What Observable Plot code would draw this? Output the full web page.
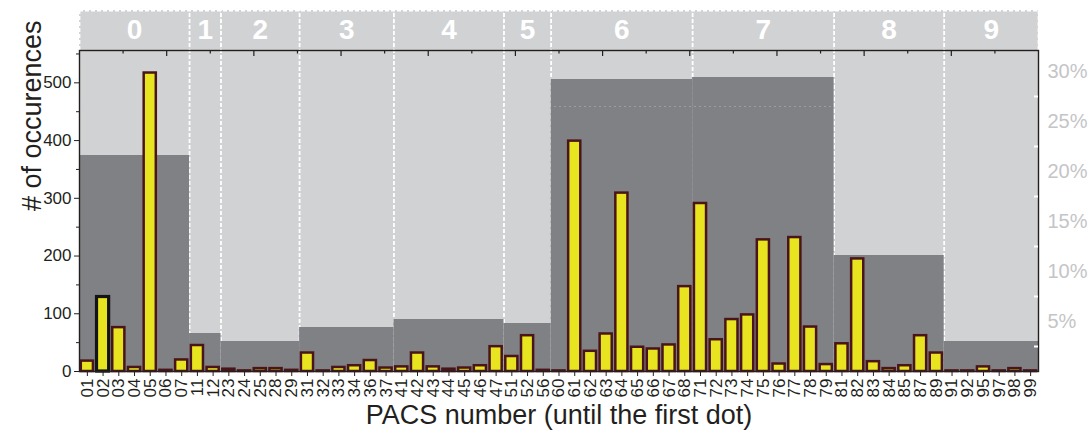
<!DOCTYPE html>
<html>
<head>
<meta charset="utf-8">
<script src="https://cdn.jsdelivr.net/npm/d3@7"></script>
<script src="https://cdn.jsdelivr.net/npm/@observablehq/plot@0.6"></script>
<style>
  body { margin: 0; background: #ffffff; }
  #chart svg { display: block; }
</style>
</head>
<body>
<div id="chart"></div>
<script>
// ---- data ----
const codes = ["01","02","03","04","05","06","07","11","12","23","24","25","28","29",
  "31","32","33","34","36","37","41","42","43","44","45","46","47","51","52","56",
  "60","61","62","63","64","65","66","67","68","71","72","73","74","75","76","77","78","79",
  "81","82","83","84","85","87","89","91","92","95","97","98","99"];
const counts = [18,129,76,7,517,2,20, 45,7, 4,1,5,5,2,
  32,1,7,10,19,6, 8,32,8,4,6,10,43, 26,62,2,
  1,399,35,65,309,42,39,46,147, 291,55,90,98,228,13,232,77,12,
  48,195,17,5,10,62,32, 1,1,8,1,5,1];
const groupNames = ["0","1","2","3","4","5","6","7","8","9"];
const groupShares = [21.6, 3.8, 3.0, 4.4, 5.2, 4.8, 29.2, 29.4, 11.6, 3.0]; // percent (right axis)
const highlighted = ["02"];
const leftTicks = [0, 100, 200, 300, 400, 500];
const leftMinorTicks = [50, 150, 250, 350, 450, 550];
const rightTicks = [5, 10, 15, 20, 25, 30];
const rightMinorTicks = [2.5, 7.5, 12.5, 17.5, 22.5, 27.5];
const refLine = 459;
const yMax = 556;       // left axis top (count)
const pctMax = 32.1;    // right axis top (percent)
const xLabel = "PACS number (until the first dot)";
const yLabel = "# of occurences";

// ---- layout / style ----
const W = 1089, H = 437, mL = 79, mR = 51, mT = 50, mB = 66;
const ink = "#231f20", light = "#d1d2d4", dark = "#808185",
      yellow = "#e8e420", maroon = "#4a1518", pctColor = "#c4c5c7";
const font = "'Liberation Sans', Arial, sans-serif";

const n = codes.length;
const plotH = H - mT - mB;
const countPerPx = yMax / plotH;
const bandPx = (W - mL - mR) / n;
const countPerPct = yMax / pctMax;
const yHeader = yMax + 40 * countPerPx;

const rows = codes.map((c, i) => ({code: c, i, count: counts[i], group: c[0]}));
const groups = groupNames.map((g, j) => {
  const idx = rows.filter(r => r.group === g).map(r => r.i);
  return {name: g, start: d3.min(idx), end: d3.max(idx) + 1, share: groupShares[j]};
});
const nTop = 22;
const topTicks = d3.range(1, nTop).map(k => ({x: k * n / nTop, major: k % 2 === 0}));
const dashed = {stroke: "white", strokeWidth: 1.8, strokeDasharray: "4,2"};
const inset = 1.8;

const chart = Plot.plot({
  width: W, height: H,
  marginLeft: mL, marginRight: mR, marginTop: mT, marginBottom: mB,
  style: {fontFamily: font, background: "white", overflow: "visible"},
  x: {domain: [0, n], axis: null},
  y: {domain: [0, yMax], axis: null},
  marks: [
    Plot.frame({fill: light}),
    Plot.rect(groups, {x1: "start", x2: "end", y1: yMax, y2: yHeader, fill: light}),
    Plot.ruleX(groups.slice(1), {x: "start", y1: 0, y2: yHeader, ...dashed}),
    Plot.ruleY([yHeader], {x1: 0, x2: n, ...dashed}),
    Plot.ruleX([0, n], {y1: yMax, y2: yHeader, ...dashed}),
    Plot.rectY(groups, {x1: "start", x2: "end", y: d => d.share * countPerPct, fill: dark}),
    Plot.ruleY([refLine], {stroke: light, strokeOpacity: 0.35, strokeDasharray: "2,3"}),
    Plot.rectY(rows, {x1: "i", x2: d => d.i + 1, y: "count", insetLeft: inset, insetRight: inset,
      fill: yellow, stroke: maroon, strokeWidth: 2.5}),
    Plot.rectY(rows.filter(r => highlighted.includes(r.code)), {x1: "i", x2: d => d.i + 1, y: "count",
      insetLeft: inset, insetRight: inset, fill: yellow, stroke: "#141414", strokeWidth: 3.2}),
    Plot.frame({stroke: ink, strokeWidth: 1.4}),
    Plot.ruleX(topTicks, {x: "x", y1: d => yMax - (d.major ? 6 : 3.5) * countPerPx, y2: yMax, stroke: ink, strokeWidth: 1.2}),
    Plot.ruleY(rightMinorTicks, {y: p => p * countPerPct, x1: n - 4 / bandPx, x2: n, stroke: "white", strokeWidth: 2}),
    Plot.axisY({ticks: leftTicks, tickSize: 5, tickPadding: 3, fontSize: 17, color: ink, label: null}),
    Plot.axisY({ticks: leftMinorTicks, tickSize: 3, tickFormat: () => "", color: ink, label: null}),
    Plot.axisY({anchor: "right", ticks: rightTicks.map(p => p * countPerPct),
      tickFormat: v => Math.round(v / countPerPct) + "%", tickSize: 0, tickPadding: 9,
      fontSize: 20, color: pctColor, label: null}),
    Plot.axisX({ticks: rows.map(r => r.i + 0.5), tickFormat: v => codes[Math.floor(v)],
      tickRotate: -90, tickSize: 5, tickPadding: 2, fontSize: 17, color: ink, label: null}),
    Plot.text(groups, {x: d => (d.start + d.end) / 2, y: (yMax + yHeader) / 2, text: "name",
      fill: "white", fontSize: 28, fontWeight: "bold"}),
    Plot.text([xLabel], {frameAnchor: "bottom", dy: 52, fontSize: 27, fill: ink}),
    Plot.text([yLabel], {frameAnchor: "left", dx: -47, rotate: -90, fontSize: 27, fill: ink})
  ]
});
document.getElementById("chart").append(chart);
</script>
</body>
</html>
